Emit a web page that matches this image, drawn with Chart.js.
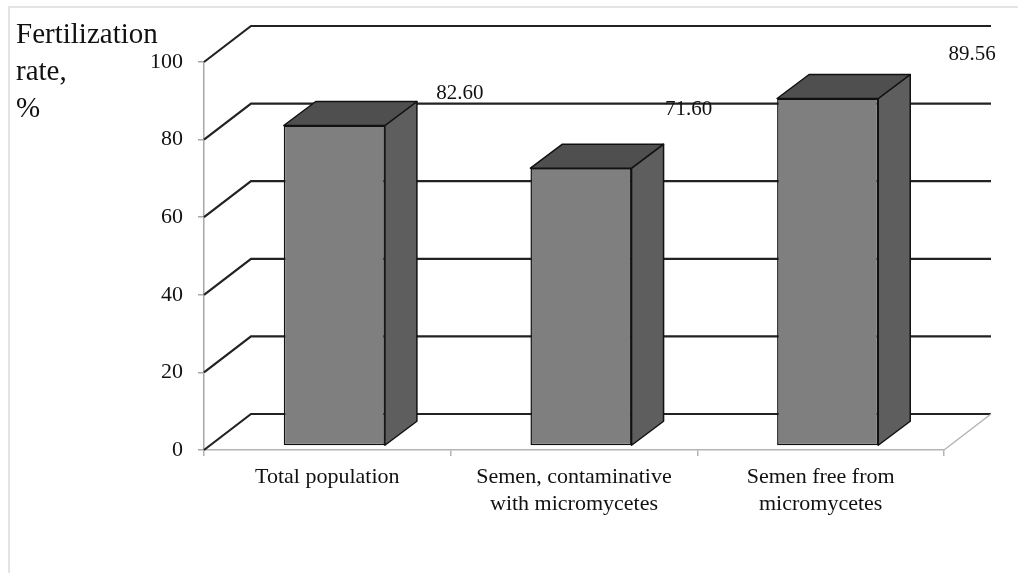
<!DOCTYPE html>
<html>
<head>
<meta charset="utf-8">
<script src="https://cdn.jsdelivr.net/npm/chart.js@4"></script>
<style>
  html, body { margin: 0; padding: 0; background: #fff; }
  #wrap { position: relative; width: 1018px; height: 573px; overflow: hidden; }
  #frame { position: absolute; left: 8px; top: 6px; right: -10px; bottom: -10px;
           border-top: 2px solid #e4e4e4; border-left: 2px solid #e4e4e4; }
  #ytitle { position: absolute; left: 16px; top: 15px; font: 29px 'Liberation Serif', serif;
            line-height: 37px; color: #111; }
  canvas { position: absolute; left: 0; top: 0; }
</style>
</head>
<body>
<div id="wrap">
  <div id="frame"></div>
  <canvas id="fertChart" width="1018" height="573"></canvas>
  <div id="ytitle">Fertilization<br>rate,<br>%</div>
</div>
<script>
// ── data ──
const categories = [
  ['Total population'],
  ['Semen, contaminative', 'with micromycetes'],
  ['Semen free from', 'micromycetes']
];
const fertRate = [82.60, 71.60, 89.56];
const yTicks = [0, 20, 40, 60, 80, 100];

// ── 3D look (styles only) ──
const WALL = { dx: 47, dy: -36 };     // depth of back wall
const BAR_SHIFT = { dx: 7, dy: -4 };  // bars sit a little behind the front plane
const BAR_DEPTH = { dx: 32, dy: -24 };
const labelNudge = [[82, -36], [64, -63], [101, -48]];
const serif = "'Liberation Serif', 'Times New Roman', serif";

const walls3d = {
  id: 'walls3d',
  beforeDatasetsDraw(chart) {
    const { ctx, chartArea: a, scales: { y } } = chart;
    ctx.save();
    // grid lines: left wall diagonal + back wall horizontal
    ctx.strokeStyle = '#222';
    ctx.lineWidth = 2.2;
    yTicks.forEach(v => {
      const py = y.getPixelForValue(v);
      ctx.beginPath();
      ctx.moveTo(a.left, py);
      ctx.lineTo(a.left + WALL.dx, py + WALL.dy);
      ctx.lineTo(a.right + WALL.dx, py + WALL.dy);
      ctx.stroke();
    });
    // floor right edge
    ctx.strokeStyle = '#b4b4b4';
    ctx.lineWidth = 1.5;
    ctx.beginPath();
    ctx.moveTo(a.right, a.bottom);
    ctx.lineTo(a.right + WALL.dx, a.bottom + WALL.dy);
    ctx.stroke();
    ctx.restore();

    ctx.save();
    ctx.translate(BAR_SHIFT.dx, BAR_SHIFT.dy);
  },
  afterDatasetsDraw(chart) {
    const { ctx } = chart;
    const bars = chart.getDatasetMeta(0).data;
    ctx.lineWidth = 1.5;
    ctx.strokeStyle = '#111';
    ctx.lineJoin = 'round';
    bars.forEach(b => {
      const xl = b.x - b.width / 2, xr = b.x + b.width / 2;
      const top = b.y, base = b.base;
      // side face
      ctx.fillStyle = '#5e5e5e';
      ctx.beginPath();
      ctx.moveTo(xr, top);
      ctx.lineTo(xr + BAR_DEPTH.dx, top + BAR_DEPTH.dy);
      ctx.lineTo(xr + BAR_DEPTH.dx, base + BAR_DEPTH.dy);
      ctx.lineTo(xr, base);
      ctx.closePath();
      ctx.fill(); ctx.stroke();
      // top face
      ctx.fillStyle = '#4f4f4f';
      ctx.beginPath();
      ctx.moveTo(xl, top);
      ctx.lineTo(xl + BAR_DEPTH.dx, top + BAR_DEPTH.dy);
      ctx.lineTo(xr + BAR_DEPTH.dx, top + BAR_DEPTH.dy);
      ctx.lineTo(xr, top);
      ctx.closePath();
      ctx.fill(); ctx.stroke();
    });
    ctx.restore();

    // value labels
    ctx.save();
    ctx.font = '21px ' + serif;
    ctx.fillStyle = '#111';
    ctx.textAlign = 'center';
    ctx.textBaseline = 'middle';
    bars.forEach((b, i) => {
      const xr = b.x + b.width / 2;
      ctx.fillText(fertRate[i].toFixed(2), xr + labelNudge[i][0], b.y + labelNudge[i][1]);
    });
    ctx.restore();
  }
};

new Chart(document.getElementById('fertChart').getContext('2d'), {
  type: 'bar',
  data: {
    labels: categories,
    datasets: [{
      data: fertRate,
      backgroundColor: '#7f7f7f',
      borderColor: '#111',
      borderWidth: 1.5,
      borderSkipped: false,
      barPercentage: 0.41,
      categoryPercentage: 1.0
    }]
  },
  options: {
    responsive: false,
    animation: false,
    devicePixelRatio: 1,
    layout: { padding: { left: 0, top: 62, right: 74, bottom: 0 } },
    plugins: { legend: { display: false }, tooltip: { enabled: false } },
    scales: {
      x: {
        afterFit: s => { s.height = 123; },
        grid: { drawOnChartArea: false, color: '#b4b4b4', tickLength: 6, lineWidth: 1.5 },
        border: { color: '#b4b4b4', width: 1.5 },
        ticks: { color: '#111', padding: 8, font: { family: serif, size: 22, lineHeight: 1.22 } }
      },
      y: {
        min: 0, max: 100,
        afterFit: s => { s.width = 204; },
        afterBuildTicks: s => { s.ticks = yTicks.map(v => ({ value: v })); },
        grid: { drawOnChartArea: false, color: '#a8a8a8', tickLength: 6, lineWidth: 1.5 },
        border: { color: '#a8a8a8', width: 1.5 },
        ticks: { color: '#111', padding: 15, font: { family: serif, size: 22 } }
      }
    }
  },
  plugins: [walls3d]
});
</script>
</body>
</html>
